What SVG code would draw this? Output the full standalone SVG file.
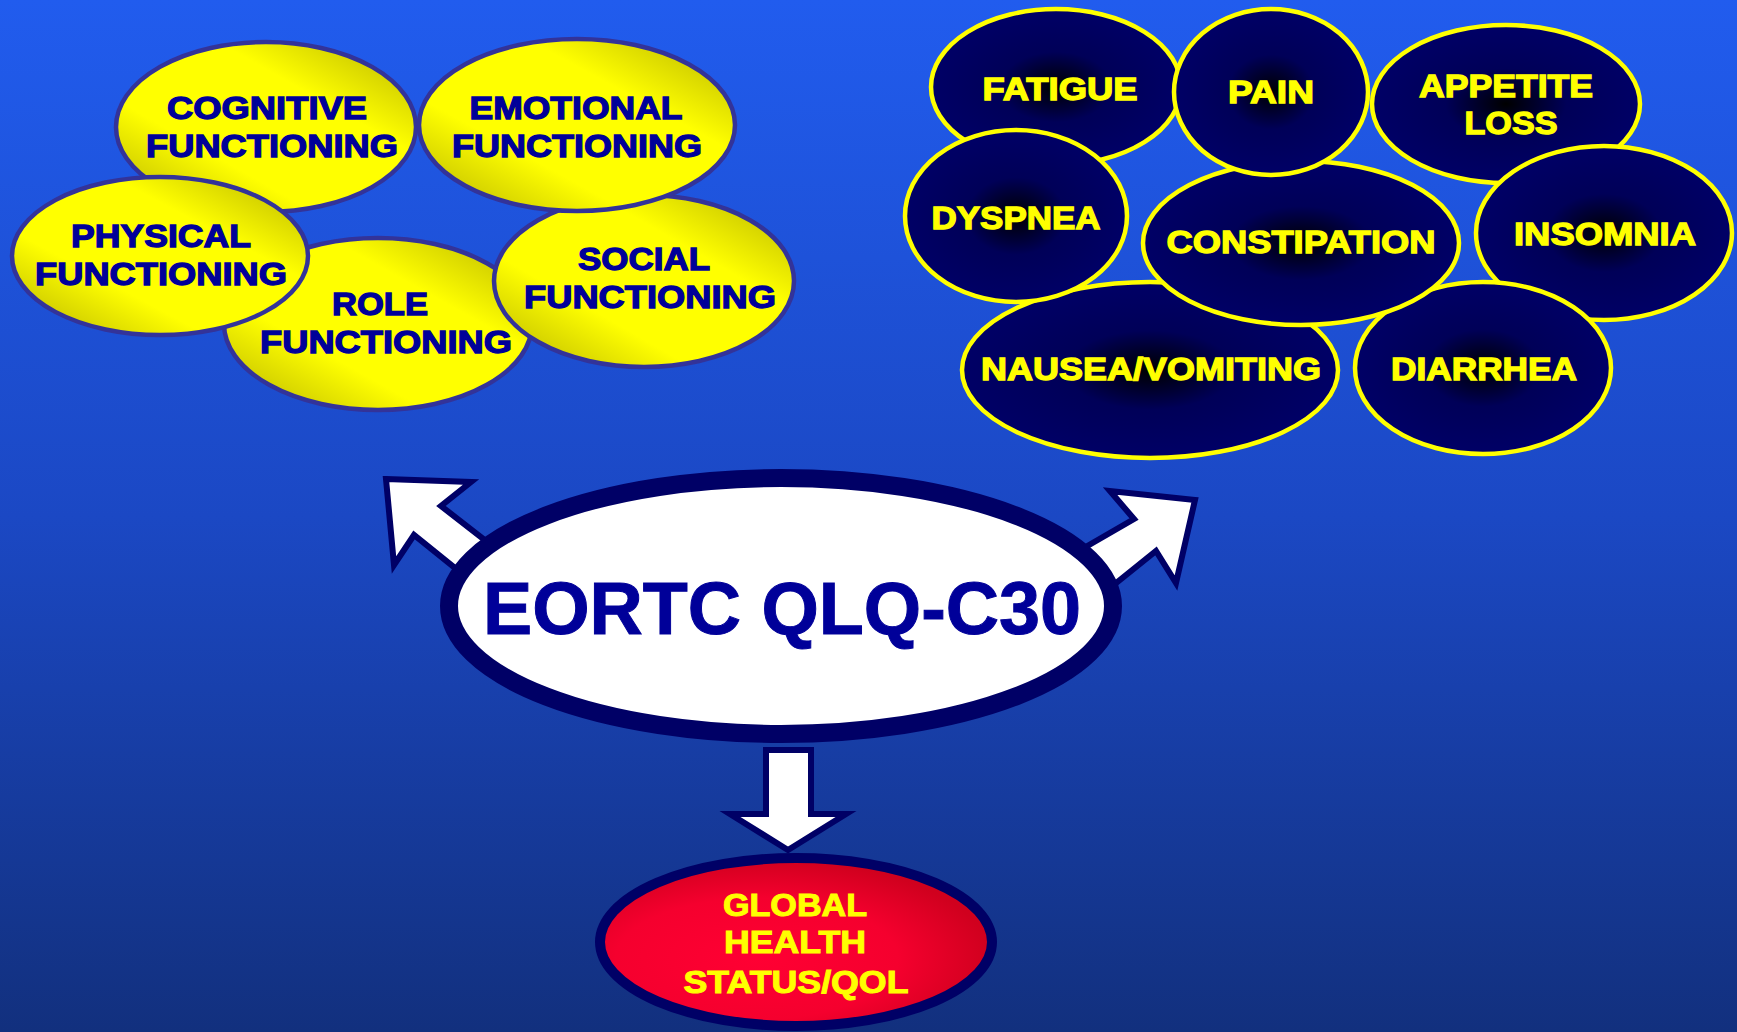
<svg xmlns="http://www.w3.org/2000/svg" width="1737" height="1032" viewBox="0 0 1737 1032">
<defs>
<linearGradient id="bg" x1="0" y1="0" x2="0" y2="1">
<stop offset="0" stop-color="#215CEE"/>
<stop offset="0.5" stop-color="#1B48C4"/>
<stop offset="1" stop-color="#12307E"/>
</linearGradient>
<linearGradient id="yel" x1="1" y1="0" x2="0" y2="1">
<stop offset="0" stop-color="#B4B000"/>
<stop offset="0.33" stop-color="#FFFF00"/>
<stop offset="0.67" stop-color="#FFFF00"/>
<stop offset="1" stop-color="#B4B000"/>
</linearGradient>
<radialGradient id="dark" cx="0.5" cy="0.5" r="0.5">
<stop offset="0" stop-color="#000000"/>
<stop offset="0.45" stop-color="#000058"/>
<stop offset="1" stop-color="#000066"/>
</radialGradient>
<radialGradient id="red" cx="0.4" cy="0.6" r="0.6">
<stop offset="0" stop-color="#FF0033"/>
<stop offset="0.6" stop-color="#F5002E"/>
<stop offset="1" stop-color="#D0001E"/>
</radialGradient>
<style>
.y{fill:url(#yel);stroke:#333399;stroke-width:4.5}
.d{fill:url(#dark);stroke:#FFFF00;stroke-width:4.5}
.t{font-family:"Liberation Sans",Arial,sans-serif;font-weight:bold;text-anchor:middle}
.ty{fill:#000099;stroke:#000099;stroke-width:1.3;font-size:32px}
.td{fill:#FFFF00;stroke:#FFFF00;stroke-width:1.3;font-size:32px}
.tr{fill:#FFFF00;stroke:#FFFF00;stroke-width:1;font-size:31px}
.arr{fill:#FFFFFF;stroke:#000066;stroke-width:6;stroke-linejoin:miter}
</style>
</defs>
<rect x="0" y="0" width="1737" height="1032" fill="url(#bg)"/>

<g id="connectors">
<polygon class="arr" points="386,479 471,482 441,506 500,552 470,580 414,535 394,565"/>
<polygon class="arr" points="1195,500 1110,491 1134,519 1070,556 1095,600 1156,551 1176,583"/>
<polygon class="arr" points="766,750 811,750 811,814 846,814 788,850 730,814 766,814"/>
</g>

<g id="cognitive"><ellipse class="y" cx="266" cy="127" rx="150" ry="85"/>
<text class="t ty" x="267" y="119" textLength="200" lengthAdjust="spacingAndGlyphs">COGNITIVE</text>
<text class="t ty" x="272" y="157" textLength="252" lengthAdjust="spacingAndGlyphs">FUNCTIONING</text></g>

<g id="role"><ellipse class="y" cx="378" cy="324" rx="154" ry="86"/>
<text class="t ty" x="380" y="315" textLength="96" lengthAdjust="spacingAndGlyphs">ROLE</text>
<text class="t ty" x="386" y="353" textLength="252" lengthAdjust="spacingAndGlyphs">FUNCTIONING</text></g>

<g id="physical"><ellipse class="y" cx="160" cy="256" rx="148" ry="79"/>
<text class="t ty" x="161" y="247" textLength="180" lengthAdjust="spacingAndGlyphs">PHYSICAL</text>
<text class="t ty" x="161" y="285" textLength="252" lengthAdjust="spacingAndGlyphs">FUNCTIONING</text></g>

<g id="social"><ellipse class="y" cx="644" cy="281" rx="150" ry="86"/>
<text class="t ty" x="644" y="270" textLength="132" lengthAdjust="spacingAndGlyphs">SOCIAL</text>
<text class="t ty" x="650" y="308" textLength="252" lengthAdjust="spacingAndGlyphs">FUNCTIONING</text></g>

<g id="emotional"><ellipse class="y" cx="577" cy="125" rx="158" ry="86"/>
<text class="t ty" x="576" y="119" textLength="213" lengthAdjust="spacingAndGlyphs">EMOTIONAL</text>
<text class="t ty" x="577" y="157" textLength="250" lengthAdjust="spacingAndGlyphs">FUNCTIONING</text></g>

<g id="fatigue"><ellipse class="d" cx="1056" cy="87" rx="125" ry="78"/>
<text class="t td" x="1060" y="100" textLength="155" lengthAdjust="spacingAndGlyphs">FATIGUE</text></g>

<g id="appetite"><ellipse class="d" cx="1506" cy="104" rx="134" ry="79"/>
<text class="t td" x="1506" y="97" textLength="174" lengthAdjust="spacingAndGlyphs">APPETITE</text>
<text class="t td" x="1511" y="134" textLength="93" lengthAdjust="spacingAndGlyphs">LOSS</text></g>

<g id="insomnia"><ellipse class="d" cx="1604" cy="233" rx="128" ry="87"/>
<text class="t td" x="1605" y="245" textLength="182" lengthAdjust="spacingAndGlyphs">INSOMNIA</text></g>

<g id="diarrhea"><ellipse class="d" cx="1483" cy="368" rx="128" ry="86"/>
<text class="t td" x="1484" y="380" textLength="186" lengthAdjust="spacingAndGlyphs">DIARRHEA</text></g>

<g id="nausea"><ellipse class="d" cx="1150" cy="370" rx="188" ry="88"/>
<text class="t td" x="1151" y="380" textLength="340" lengthAdjust="spacingAndGlyphs">NAUSEA/VOMITING</text></g>

<g id="dyspnea"><ellipse class="d" cx="1016" cy="216" rx="111" ry="86"/>
<text class="t td" x="1016" y="229" textLength="169" lengthAdjust="spacingAndGlyphs">DYSPNEA</text></g>

<g id="constipation"><ellipse class="d" cx="1301" cy="243" rx="158" ry="82"/>
<text class="t td" x="1301" y="253" textLength="269" lengthAdjust="spacingAndGlyphs">CONSTIPATION</text></g>

<g id="pain"><ellipse class="d" cx="1271" cy="92" rx="97" ry="83"/>
<text class="t td" x="1271" y="103" textLength="86" lengthAdjust="spacingAndGlyphs">PAIN</text></g>

<g id="eortc"><ellipse cx="781" cy="606" rx="332" ry="128" fill="#FFFFFF" stroke="#000066" stroke-width="18"/>
<text class="t" x="782" y="634" font-size="75" fill="#000099" stroke="#000099" stroke-width="1" textLength="598" lengthAdjust="spacingAndGlyphs">EORTC QLQ-C30</text></g>

<g id="global"><ellipse cx="796" cy="942" rx="196" ry="84" fill="url(#red)" stroke="#000066" stroke-width="10"/>
<text class="t tr" x="795" y="916" textLength="144" lengthAdjust="spacingAndGlyphs">GLOBAL</text>
<text class="t tr" x="795" y="953" textLength="142" lengthAdjust="spacingAndGlyphs">HEALTH</text>
<text class="t tr" x="796" y="993" textLength="225" lengthAdjust="spacingAndGlyphs">STATUS/QOL</text></g>
</svg>
